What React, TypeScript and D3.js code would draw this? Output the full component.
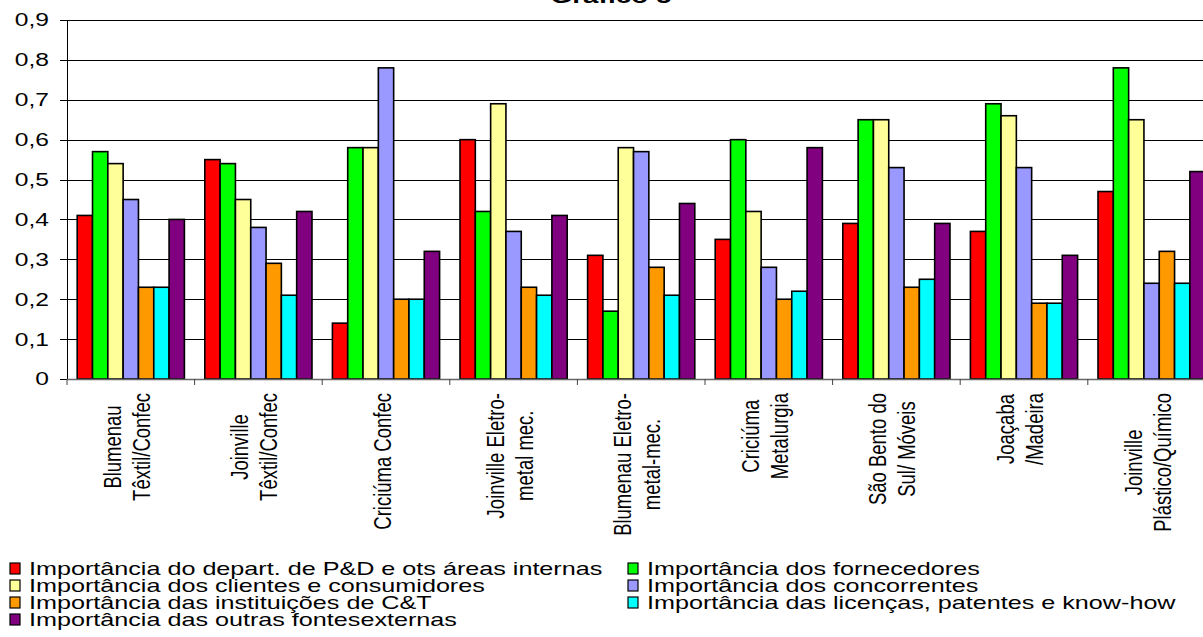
import { useEffect, useRef } from 'react';
import * as d3 from 'd3';

// categories (each entry = lines of the rotated label)
const categories = [
    ['Blumenau', 'Têxtil/Confec'],
    ['Joinville', 'Têxtil/Confec'],
    ['Criciúma Confec'],
    ['Joinville Eletro-', 'metal mec.'],
    ['Blumenau Eletro-', 'metal-mec.'],
    ['Criciúma', 'Metalurgia'],
    ['São Bento do', 'Sul/ Móveis'],
    ['Joaçaba', '/Madeira'],
    ['Joinville', 'Plástico/Químico'],
];

const seriesNames = [
    'Importância do depart. de P&D e ots áreas internas',
    'Importância dos fornecedores',
    'Importância dos clientes e consumidores',
    'Importância dos concorrentes',
    'Importância das instituições de C&T',
    'Importância das licenças, patentes e know-how',
    'Importância das outras fontesexternas',
];

const seriesColors = ['#ff0000', '#00ff00', '#ffff99', '#9999ff', '#ff9900', '#00ffff', '#800080'];

const pdInternas = [0.41, 0.55, 0.14, 0.60, 0.31, 0.35, 0.39, 0.37, 0.47];
const fornecedores = [0.57, 0.54, 0.58, 0.42, 0.17, 0.60, 0.65, 0.69, 0.78];
const clientes = [0.54, 0.45, 0.58, 0.69, 0.58, 0.42, 0.65, 0.66, 0.65];
const concorrentes = [0.45, 0.38, 0.78, 0.37, 0.57, 0.28, 0.53, 0.53, 0.24];
const instituicoes = [0.23, 0.29, 0.20, 0.23, 0.28, 0.20, 0.23, 0.19, 0.32];
const licencas = [0.23, 0.21, 0.20, 0.21, 0.21, 0.22, 0.25, 0.19, 0.24];
const outras = [0.40, 0.42, 0.32, 0.41, 0.44, 0.58, 0.39, 0.31, 0.52];

const series = [pdInternas, fornecedores, clientes, concorrentes, instituicoes, licencas, outras];

const yTicks = [0, 0.1, 0.2, 0.3, 0.4, 0.5, 0.6, 0.7, 0.8, 0.9];

const App = () => {
    const ref = useRef<SVGSVGElement>(null);

    useEffect(() => {
        const svg = d3.select(ref.current);
        svg.selectAll('*').remove();

        const width = 1203;
        const left = 67, top = 20, bottom = 379;
        const step = 127.6;
        const right = left + step * categories.length;
        // the original picture is stretched sideways, so text gets a horizontal scale
        const stretch = 1.33;
        const font = '"Liberation Sans", Arial, sans-serif';

        const x0 = d3.scaleBand<number>()
            .domain(d3.range(categories.length))
            .range([left, right])
            .paddingInner(0.16)
            .paddingOuter(0.08);
        const x1 = d3.scaleBand<number>()
            .domain(d3.range(series.length))
            .range([0, x0.bandwidth()]);
        const y = d3.scaleLinear().domain([0, 0.9]).range([bottom, top]);

        svg.style('font-family', font);

        // gridlines
        svg.append('g')
            .selectAll('line')
            .data(yTicks.slice(1))
            .join('line')
            .attr('x1', left).attr('x2', width)
            .attr('y1', d => Math.round(y(d)) + 0.5)
            .attr('y2', d => Math.round(y(d)) + 0.5)
            .attr('stroke', '#000')
            .attr('stroke-width', 1);

        // y axis
        svg.append('line')
            .attr('x1', left + 0.5).attr('x2', left + 0.5)
            .attr('y1', top).attr('y2', bottom)
            .attr('stroke', '#000');
        svg.append('g')
            .selectAll('line')
            .data(yTicks)
            .join('line')
            .attr('x1', left - 7).attr('x2', left)
            .attr('y1', d => Math.round(y(d)) + 0.5)
            .attr('y2', d => Math.round(y(d)) + 0.5)
            .attr('stroke', '#000');
        svg.append('g')
            .selectAll('text')
            .data(yTicks)
            .join('text')
            .attr('transform', d => `translate(49,${y(d)}) scale(${stretch},1)`)
            .attr('text-anchor', 'end')
            .attr('dy', '0.35em')
            .style('font-size', '18.5px')
            .text(d => d === 0 ? '0' : d3.format('.1f')(d).replace('.', ','));

        // bars
        svg.append('g')
            .selectAll('g')
            .data(categories)
            .join('g')
            .attr('transform', (_, i) => `translate(${x0(i)},0)`)
            .selectAll('rect')
            .data((_, ci) => series.map((s, si) => ({ si, v: s[ci] })))
            .join('rect')
            .attr('x', d => x1(d.si)!)
            .attr('y', d => y(d.v))
            .attr('width', x1.bandwidth())
            .attr('height', d => bottom - y(d.v))
            .attr('fill', d => seriesColors[d.si])
            .attr('stroke', '#000')
            .attr('stroke-width', 1.6);

        // x axis
        svg.append('line')
            .attr('x1', left).attr('x2', width)
            .attr('y1', bottom + 0.5).attr('y2', bottom + 0.5)
            .attr('stroke', '#666')
            .attr('stroke-width', 1.5);
        svg.append('g')
            .selectAll('line')
            .data(d3.range(categories.length + 1))
            .join('line')
            .attr('x1', i => left + i * step).attr('x2', i => left + i * step)
            .attr('y1', bottom).attr('y2', bottom + 6)
            .attr('stroke', '#444');

        // category labels, rotated
        const labels = svg.append('g');
        categories.forEach((lines, ci) => {
            const cx = x0(ci)! + x0.bandwidth() / 2;
            const texts = lines.map(l => labels.append('text')
                .attr('text-anchor', 'middle')
                .style('font-size', '18.5px')
                .text(l));
            const maxLen = d3.max(texts, t => (t.node() as SVGTextElement).getComputedTextLength()) || 0;
            const yc = 393 + maxLen / 2;
            texts.forEach((t, i) => {
                const bx = cx + (i - (lines.length - 1) / 2) * 29 + 4.5;
                t.attr('transform', `translate(${bx},${yc}) scale(${stretch},1) rotate(-90)`);
            });
        });

        // title
        svg.append('text')
            .attr('transform', `translate(611,3) scale(${stretch},1)`)
            .attr('text-anchor', 'middle')
            .style('font-size', '21px')
            .style('font-weight', 'bold')
            .text('Gráfico 5');

        // legend
        const legend = svg.append('g')
            .selectAll('g')
            .data(seriesNames)
            .join('g')
            .attr('transform', (_, i) => `translate(${i % 2 ? 628 : 10},${575 + Math.floor(i / 2) * 17})`);
        legend.append('rect')
            .attr('x', 0).attr('y', -12)
            .attr('width', 10).attr('height', 11)
            .attr('fill', (_, i) => seriesColors[i])
            .attr('stroke', '#000')
            .attr('stroke-width', 1.2);
        legend.append('text')
            .attr('transform', `translate(19,0) scale(1.36,1)`)
            .style('font-size', '18.5px')
            .text(d => d);
    }, []);

    return (
        <svg ref={ref} width={1203} height={637} style={{ position: 'absolute', left: 0, top: 0 }} />
    );
};

export default App;
